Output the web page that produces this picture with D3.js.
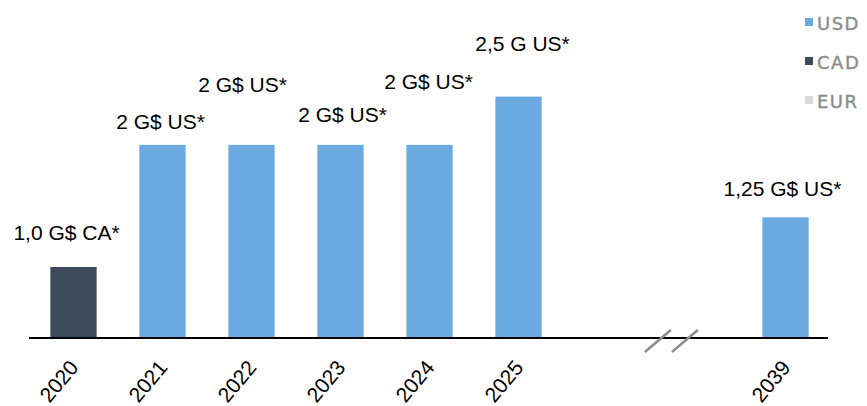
<!DOCTYPE html>
<html>
<head>
<meta charset="utf-8">
<script src="https://cdn.jsdelivr.net/npm/d3@7"></script>
<style>
  body { margin: 0; background: #fff; }
  svg { display: block; }
</style>
</head>
<body>
<div id="chart"></div>
<script>
// years shown, with an axis break between 2025 and 2039
const years = ["2020", "2021", "2022", "2023", "2024", "2025", "2039"];
// bar heights in G$ CA (US amounts converted)
const values = [1.0, 2.72, 2.72, 2.72, 2.72, 3.4, 1.7];
const currency = ["CAD", "USD", "USD", "USD", "USD", "USD", "USD"];
const labels = ["1,0 G$ CA*", "2 G$ US*", "2 G$ US*", "2 G$ US*", "2 G$ US*", "2,5 G US*", "1,25 G$ US*"];
const legendKeys = ["USD", "CAD", "EUR"];

// label placement (px): lift above the bar top, horizontal nudge
const labelLift = [27, 16, 53, 23, 56, 46, 21];
const labelDx = [-7, -2, -9, 2, -1, 4, -3];

const width = 867, height = 406;
const baseY = 338;

const svg = d3.select("#chart").append("svg")
    .attr("width", width)
    .attr("height", height);

const color = d3.scaleOrdinal()
    .domain(legendKeys)
    .range(["#6aaae0", "#3b4b5a", "#d9d9d9"]);

const slots = years.slice(0, 6).concat(["gap1", "gap2"], years.slice(6));

const x = d3.scaleBand()
    .domain(slots)
    .range([29, 830])
    .paddingInner(0.48)
    .paddingOuter(0.24);

const y = d3.scaleLinear()
    .domain([0, 4])
    .range([baseY, baseY - 284]);

const data = years.map((yr, i) => ({
  year: yr, value: values[i], cur: currency[i], label: labels[i],
  lift: labelLift[i], dx: labelDx[i]
}));

svg.selectAll(".bar")
    .data(data)
    .enter()
    .append("rect")
    .attr("class", "bar")
    .attr("x", d => x(d.year))
    .attr("y", d => y(d.value))
    .attr("width", x.bandwidth())
    .attr("height", d => y(0) - y(d.value))
    .attr("fill", d => color(d.cur));

svg.selectAll(".vlabel")
    .data(data)
    .enter()
    .append("text")
    .attr("class", "vlabel")
    .attr("x", d => x(d.year) + x.bandwidth() / 2 + d.dx)
    .attr("y", d => y(d.value) - d.lift)
    .attr("text-anchor", "middle")
    .style("font-family", "'Liberation Sans', Arial, sans-serif")
    .style("font-size", "21px")
    .style("fill", "#000")
    .text(d => d.label);

// x axis
const xAxis = svg.append("g")
    .attr("transform", `translate(0, ${baseY})`)
    .call(d3.axisBottom(x).tickValues(years).tickSize(0).tickSizeOuter(0));

xAxis.select(".domain")
    .attr("stroke", "#000")
    .attr("stroke-width", 2)
    .attr("d", "M29,0H828");

xAxis.selectAll(".tick text")
    .attr("x", 0)
    .attr("y", 0)
    .attr("dy", 0)
    .attr("text-anchor", "end")
    .attr("transform", "translate(6, 30) rotate(-50)")
    .style("font-family", "'Liberation Sans', Arial, sans-serif")
    .style("font-size", "21px")
    .style("fill", "#000");

// axis break marks
const breakX = x("gap2") - 2;
svg.selectAll(".brk")
    .data([-13.5, 13.5])
    .enter()
    .append("line")
    .attr("class", "brk")
    .attr("x1", d => breakX + d - 13)
    .attr("y1", baseY + 14)
    .attr("x2", d => breakX + d + 13)
    .attr("y2", baseY - 8)
    .attr("stroke", "#8c8c8c")
    .attr("stroke-width", 2.5);

// legend
const legend = svg.selectAll(".leg")
    .data(legendKeys)
    .enter()
    .append("g")
    .attr("class", "leg")
    .attr("transform", (d, i) => `translate(805, ${22 + i * 39})`);

legend.append("rect")
    .attr("x", 0)
    .attr("y", -4)
    .attr("width", 8)
    .attr("height", 8)
    .attr("fill", d => color(d));

legend.append("text")
    .attr("x", 12)
    .attr("y", 1.5)
    .attr("dy", "0.36em")
    .style("font-family", "'DejaVu Sans', sans-serif")
    .style("font-size", "18px")
    .style("letter-spacing", "1.5px")
    .style("stroke", "#8c8c8c")
    .style("stroke-width", 0.4)
    .style("fill", "#8c8c8c")
    .text(d => d);
</script>
</body>
</html>
